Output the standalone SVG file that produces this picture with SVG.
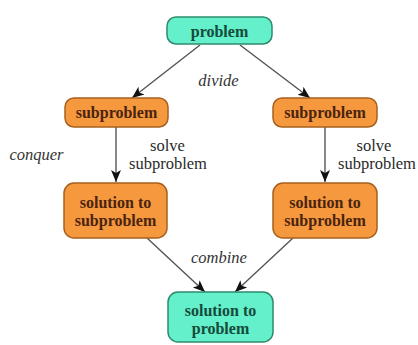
<svg xmlns="http://www.w3.org/2000/svg" width="418" height="345" viewBox="0 0 418 345">
<style>
.teal{fill:#63f0cb;stroke:#2f8a6c;stroke-width:1.5}
.orange{fill:#f6983d;stroke:#a8601e;stroke-width:1.5}
text{font-family:"Liberation Serif","Times New Roman","DejaVu Serif",serif}
.nt{font-size:16px;font-weight:bold;text-anchor:middle}
.tt{fill:#164a3a}
.ot{fill:#4a2410}
.lbl{font-size:16.5px;fill:#2a2a2a}
.it{font-style:italic;fill:#333}
.edge{stroke:#555;stroke-width:1.4;fill:none;marker-end:url(#ah)}
</style>
<defs>
<marker id="ah" markerWidth="14" markerHeight="12" refX="12" refY="6" orient="auto" markerUnits="userSpaceOnUse">
<path d="M0,1 L12,6 L0,11 L3,6 Z" fill="#111"/>
</marker>
</defs>
<rect width="418" height="345" fill="#ffffff"/>
<g id="connectors">
<line class="edge" x1="200" y1="45" x2="132" y2="98"/>
<line class="edge" x1="240" y1="45" x2="310" y2="98"/>
<line class="edge" x1="116" y1="127" x2="116" y2="182"/>
<line class="edge" x1="325" y1="127" x2="325" y2="182"/>
<line class="edge" x1="147" y1="238" x2="205" y2="292"/>
<line class="edge" x1="293" y1="238" x2="235" y2="292"/>
</g>
<g id="problem">
<rect class="teal" x="167" y="17" width="105" height="27" rx="9"/>
<text class="nt tt" x="219.5" y="37">problem</text>
</g>
<g id="sub-left">
<rect class="orange" x="65" y="98" width="103" height="29" rx="9"/>
<text class="nt ot" x="116.5" y="118">subproblem</text>
</g>
<g id="sub-right">
<rect class="orange" x="273" y="98" width="104" height="29" rx="9"/>
<text class="nt ot" x="325" y="118">subproblem</text>
</g>
<g id="sol-left">
<rect class="orange" x="64" y="183" width="103" height="55" rx="10"/>
<text class="nt ot" x="115.5" y="208">solution to</text>
<text class="nt ot" x="115.5" y="226">subproblem</text>
</g>
<g id="sol-right">
<rect class="orange" x="273" y="183" width="104" height="55" rx="10"/>
<text class="nt ot" x="325" y="208">solution to</text>
<text class="nt ot" x="325" y="226">subproblem</text>
</g>
<g id="solution">
<rect class="teal" x="168" y="292" width="105" height="50" rx="10"/>
<text class="nt tt" x="220.5" y="316">solution to</text>
<text class="nt tt" x="220.5" y="334">problem</text>
</g>
<g id="labels">
<text class="lbl it" x="218.5" y="86" text-anchor="middle">divide</text>
<text class="lbl it" x="36.5" y="160" text-anchor="middle">conquer</text>
<text class="lbl" x="167.5" y="151" text-anchor="middle">solve</text>
<text class="lbl" x="168" y="169" text-anchor="middle">subproblem</text>
<text class="lbl" x="374" y="151" text-anchor="middle">solve</text>
<text class="lbl" x="377" y="169" text-anchor="middle">subproblem</text>
<text class="lbl it" x="219" y="263" text-anchor="middle">combine</text>
</g>
</svg>
